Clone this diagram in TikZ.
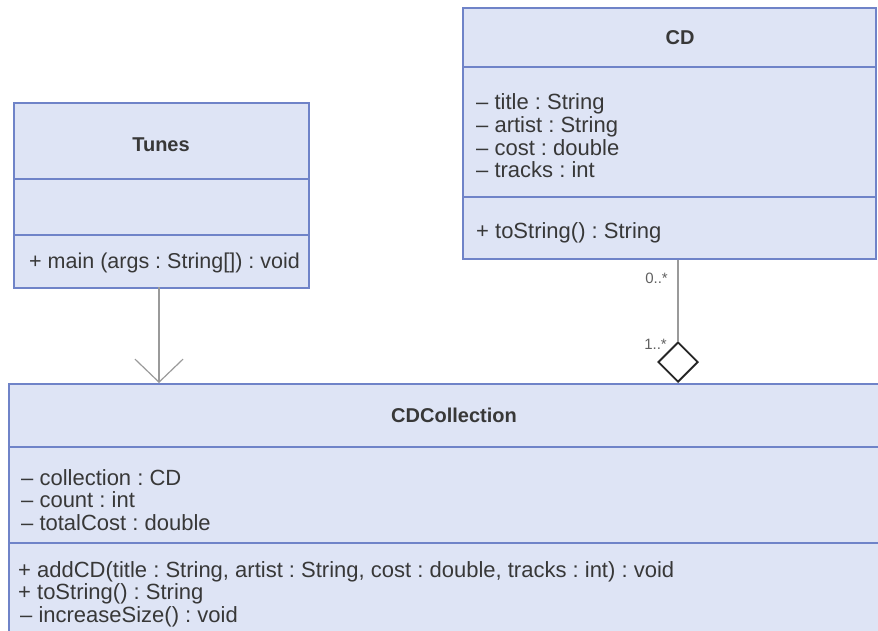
\documentclass[tikz,border=0pt]{standalone}
\usepackage{fontspec}
\setmainfont{Liberation Sans}
\usetikzlibrary{shapes.geometric,arrows.meta}
\frenchspacing

\definecolor{boxfill}{HTML}{DEE4F5}
\definecolor{boxline}{HTML}{6F83C8}
\definecolor{ink}{HTML}{383838}
\definecolor{wire}{HTML}{9A9A9A}

\tikzset{
  classbox/.style={draw=boxline, fill=boxfill, line width=2pt, rectangle,
    inner sep=0pt, anchor=north west},
  divider/.style={draw=boxline, line width=1.6pt},
  title/.style={font=\fontsize{20}{22}\selectfont\bfseries, text=ink,
    inner sep=0pt, anchor=base},
  member/.style={font=\fontsize{22}{23}\selectfont, text=ink,
    inner sep=0pt, anchor=base west},
  mult/.style={font=\fontsize{15}{17}\selectfont, text=ink!80,
    inner sep=0pt, anchor=base east},
  wireline/.style={draw=wire, line width=1.2pt},
}

\begin{document}
\begin{tikzpicture}[x=1pt, y=-1pt]
  \useasboundingbox (0,0) rectangle (878,631);
  \clip (0,0) rectangle (878,631);

  % class Tunes
  \node[classbox, minimum width=295pt, minimum height=185pt] (tunes) at (13,102) {};
  \draw[divider] (13,179) -- (308,179);
  \draw[divider] (13,235) -- (308,235);
  \node[title] (tunesname) at (161,152) {Tunes};
  \node[member, font=\fontsize{21.5}{23}\selectfont] (tunesmain) at (29,268.5) {+ main (args : String[]) : void};

  % class CD
  \node[classbox, minimum width=413pt, minimum height=251pt] (cd) at (462,7) {};
  \draw[divider] (462,67) -- (875,67);
  \draw[divider] (462,197) -- (875,197);
  \node[title] (cdname) at (680,45) {CD};
  \node[member] (cdtitle)  at (476,109.5) {– title : String};
  \node[member] (cdartist) at (476,132.5) {– artist : String};
  \node[member] (cdcost)   at (476,155.5) {– cost : double};
  \node[member] (cdtracks) at (476,178) {– tracks : int};
  \node[member] (cdtostr)  at (476,238) {+ toString() : String};

  % class CDCollection
  \node[classbox, minimum width=900pt, minimum height=280pt] (coll) at (8,383) {};
  \draw[divider] (8,447) -- (890,447);
  \draw[divider] (8,543) -- (890,543);
  \node[title] (collname) at (454,422) {CDCollection};
  \node[member] (collcoll)  at (21,485) {– collection : CD};
  \node[member] (collcount) at (21,507.5) {– count : int};
  \node[member] (colltotal) at (21,530) {– totalCost : double};
  \node[member] (colladd)   at (18,577) {+ addCD(title : String, artist : String, cost : double, tracks : int) : void};
  \node[member] (colltostr) at (18,599.5) {+ toString() : String};
  \node[member] (collinc)   at (20,622) {– increaseSize() : void};

  % dependency Tunes -> CDCollection
  \coordinate (dep) at (159,287);
  \draw[wireline, -{Straight Barb[length=23pt, width=48pt, line width=1.2pt]}]
    (dep) -- (dep |- coll.north);

  % aggregation CDCollection <>-- CD
  \node[diamond, draw=black!85, line width=1.8pt, fill=white, inner sep=0pt,
        minimum width=40pt, minimum height=40pt, anchor=south] (agg) at (678,383) {};
  \draw[wireline] (agg.north) -- (agg.north |- cd.south);
  \node[mult] (multcd)   at (668,283) {0..*};
  \node[mult] (multcoll) at (667,349) {1..*};
\end{tikzpicture}
\end{document}
